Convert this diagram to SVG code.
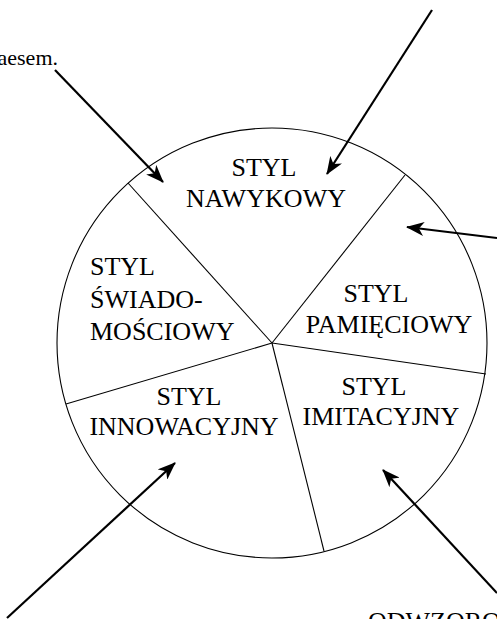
<svg xmlns="http://www.w3.org/2000/svg" width="497" height="619" viewBox="0 0 497 619">
<style>
.lbl{font-family:"Liberation Serif","Times New Roman",serif;font-size:26px;fill:#000;text-anchor:middle}
.side{font-family:"Liberation Serif","Times New Roman",serif;font-size:22px;fill:#000}
.div{stroke:#000;stroke-width:1.1;fill:none}
.arr{stroke:#000;stroke-width:2.2;fill:none;marker-end:url(#ah)}
</style>
<defs>
<marker id="ah" markerUnits="userSpaceOnUse" viewBox="0 0 18 14" refX="17" refY="7" markerWidth="18" markerHeight="14" orient="auto">
<path d="M0,0 L18,7 L0,14 L5,7 Z" fill="#000"/>
</marker>
</defs>
<rect width="497" height="619" fill="#fff"/>
<g id="circle">
<circle cx="272" cy="343" r="215" class="div"/>
<line x1="272" y1="343" x2="128" y2="183" class="div"/>
<line x1="272" y1="343" x2="405" y2="175" class="div"/>
<line x1="272" y1="343" x2="486" y2="374" class="div"/>
<line x1="272" y1="343" x2="324" y2="551" class="div"/>
<line x1="272" y1="343" x2="66" y2="404" class="div"/>
</g>
<g id="nawykowy">
<text class="lbl" x="264" y="176">STYL</text>
<text class="lbl" x="266" y="207" textLength="160">NAWYKOWY</text>
</g>
<g id="swiadomosciowy">
<text class="lbl" x="90" y="275" style="text-anchor:start">STYL</text>
<text class="lbl" x="90" y="308" style="text-anchor:start">ŚWIADO-</text>
<text class="lbl" x="90" y="340" style="text-anchor:start">MOŚCIOWY</text>
</g>
<g id="pamieciowy">
<text class="lbl" x="376" y="302">STYL</text>
<text class="lbl" x="389" y="333">PAMIĘCIOWY</text>
</g>
<g id="innowacyjny">
<text class="lbl" x="189" y="405">STYL</text>
<text class="lbl" x="184" y="435">INNOWACYJNY</text>
</g>
<g id="imitacyjny">
<text class="lbl" x="374" y="395">STYL</text>
<text class="lbl" x="381" y="425">IMITACYJNY</text>
</g>
<g id="outer-labels">
<text class="side" x="58" y="65" text-anchor="end">aesem.</text>
<text class="lbl" x="368" y="630" style="text-anchor:start">ODWZOROW</text>
</g>
<g id="connectors">
<line x1="55" y1="70" x2="163" y2="182" class="arr"/>
<line x1="432" y1="10" x2="327" y2="174" class="arr"/>
<line x1="497" y1="238" x2="407" y2="227" class="arr"/>
<line x1="7" y1="618" x2="175" y2="463" class="arr"/>
<line x1="497" y1="593" x2="383" y2="470" class="arr"/>
</g>
</svg>
